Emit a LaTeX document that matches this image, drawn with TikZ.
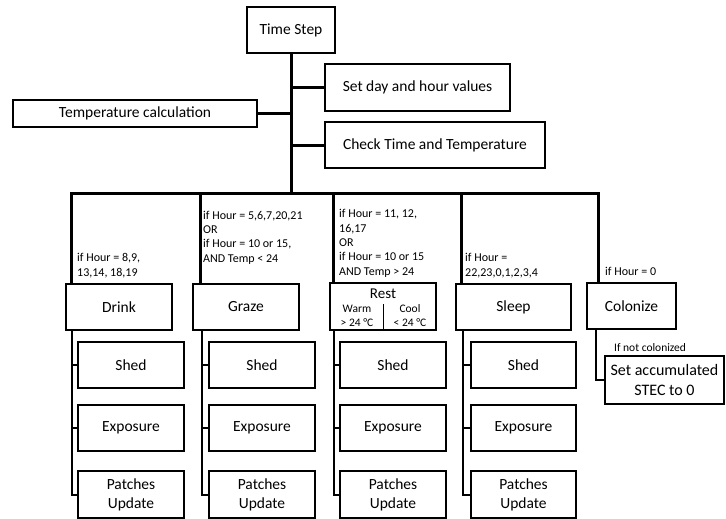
\documentclass[tikz,border=0pt]{standalone}
\usepackage{fontspec}
\setmainfont{Carlito}
\begin{document}
\begin{tikzpicture}[x=1pt,y=-1pt,
  box/.style={draw,line width=1.2pt,inner sep=0pt,align=center,font=\fontsize{15.5}{19}\selectfont},
  cond/.style={anchor=base west,inner sep=0pt,align=left,font=\fontsize{12}{14.3}\selectfont},
  small/.style={inner sep=0pt,font=\fontsize{11.5}{14}\selectfont},
  trunk/.style={line width=3pt},
  col/.style={line width=2pt}]
\useasboundingbox (0,0) rectangle (726,519);

% top part
\node[box,minimum width=88pt,minimum height=46pt] (ts) at (291,30) {Time Step};
\node[box,minimum width=185pt,minimum height=47pt] (sd) at (417.5,87.5) {Set day and hour values};
\node[box,minimum width=244pt,minimum height=27pt] (tc) at (135,113.5) {Temperature calculation};
\node[box,minimum width=220pt,minimum height=46pt] (ct) at (435,145) {Check Time and Temperature};

\coordinate (b1) at (71,193);
\coordinate (b2) at (200,193);
\coordinate (b3) at (333,193);
\coordinate (b4) at (461,193);
\coordinate (b5) at (598,193);
\coordinate (bus) at (291,193);

\draw[trunk] (ts.south) -- (bus);
\draw[trunk] (sd.west -| ts.south) -- (sd.west);
\draw[trunk] (tc.east -| ts.south) -- (tc.east);
\draw[trunk] (ct.west -| ts.south) -- (ct.west);

% activity boxes
\node[box,minimum width=106pt,minimum height=46pt] (drink) at (119,307) {Drink};
\node[box,minimum width=106pt,minimum height=46pt] (graze) at (246,307) {Graze};
\node[box,minimum width=106pt,minimum height=47pt] (rest) at (383,306.5) {};
\node[box,minimum width=115pt,minimum height=46pt] (sleep) at (513.5,307) {Sleep};
\node[box,minimum width=89pt,minimum height=46pt] (colonize) at (631.5,306) {Colonize};

\node[inner sep=0pt,font=\fontsize{15}{18}\selectfont] (resttitle) at (383,294) {Rest};
\node[small] (warm) at (357,309) {Warm};
\node[small] (warmt) at (357,323) {> 24 °C};
\node[small] (cool) at (410,309) {Cool};
\node[small] (coolt) at (410,323) {< 24 °C};
\draw[line width=1pt] (rest.south) -- ++(0,-27);

% bus and branches
\draw[trunk] (drink.north -| b1) -- (b1) -- (b5) -- (colonize.north -| b5);
\draw[trunk] (b2) -- (graze.north -| b2);
\draw[trunk] (b3) -- (rest.north -| b3);
\draw[trunk] (b4) -- (sleep.north -| b4);

% conditions (anchored at the baseline of the last line)
\node[cond] (cd1) at (77,276) {if Hour = 8,9,\\13,14, 18,19};
\node[cond] (cd2) at (203,262) {if Hour = 5,6,7,20,21\\OR\\if Hour = 10 or 15,\\AND Temp < 24};
\node[cond] (cd3) at (339,275) {if Hour = 11, 12,\\16,17\\OR\\if Hour = 10 or 15\\AND Temp > 24};
\node[cond] (cd4) at (465,276) {if Hour =\\22,23,0,1,2,3,4};
\node[cond] (cd5) at (605,275) {if Hour = 0};

% lower boxes
\coordinate (c1) at (72,330);
\coordinate (c2) at (202,330);
\coordinate (c3) at (334,330);
\coordinate (c4) at (463,330);
\coordinate (c5) at (596,330);

\foreach \i/\x/\w in {1/131/106,2/262/106,3/393/106,4/523.5/105} {
  \node[box,minimum width=\w pt,minimum height=46pt] (sh\i) at (\x,365) {Shed};
  \node[box,minimum width=\w pt,minimum height=46pt] (ex\i) at (\x,428) {Exposure};
  \node[box,minimum width=\w pt,minimum height=47pt] (pu\i) at (\x,494.5) {Patches\\Update};
}
\foreach \i/\t in {1/drink,2/graze,3/rest,4/sleep} {
  \draw[col] (\t.south -| c\i) |- (pu\i.west);
  \draw[col] (c\i |- sh\i.west) -- (sh\i.west);
  \draw[col] (c\i |- ex\i.west) -- (ex\i.west);
}

% colonize branch
\node[box,minimum width=119pt,minimum height=48pt,font=\fontsize{16}{20}\selectfont] (sa) at (664.5,380) {Set accumulated\\STEC to 0};
\node[cond,font=\fontsize{11.5}{14}\selectfont] (nc) at (614,351) {If not colonized};
\draw[col] (colonize.south -| c5) |- (sa.west);
\end{tikzpicture}
\end{document}
